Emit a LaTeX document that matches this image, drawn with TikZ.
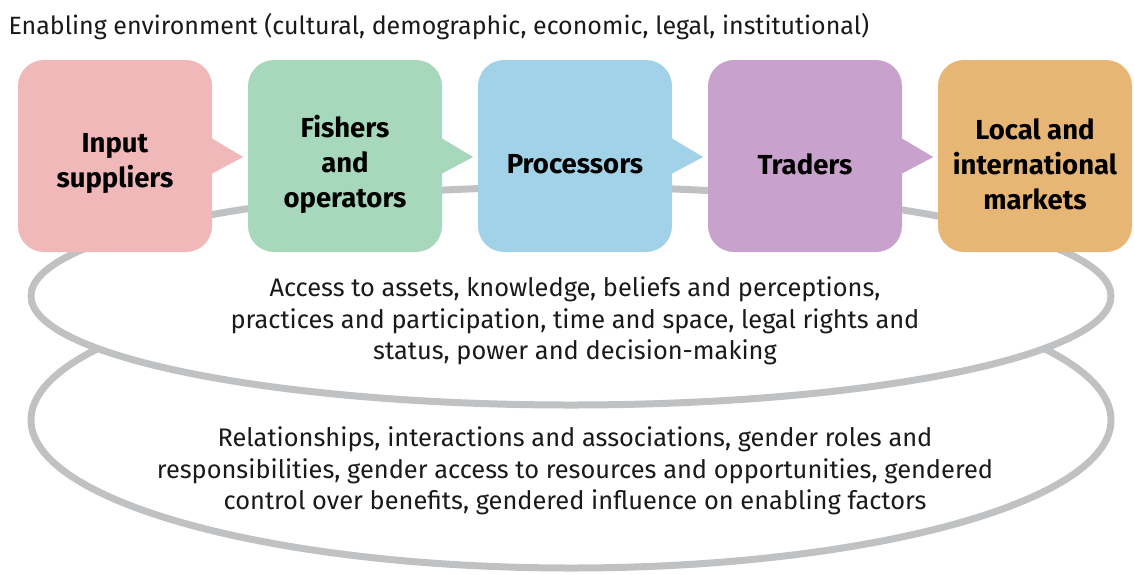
\documentclass[tikz,border=0pt]{standalone}
\usepackage{fontspec}
\setmainfont{Fira Sans}
\usetikzlibrary{calc}
\definecolor{inputc}{HTML}{F0B8B9}
\definecolor{fisherc}{HTML}{A7D8BC}
\definecolor{procc}{HTML}{A2D2E8}
\definecolor{tradec}{HTML}{C8A2CC}
\definecolor{marketc}{HTML}{E7B574}
\definecolor{ringc}{HTML}{C0C1C3}
\definecolor{txtc}{HTML}{1A1A1A}
\tikzset{
  stagebox/.style={rounded corners=26pt, minimum width=194pt, minimum height=192pt,
    inner sep=0pt},
  stagelabel/.style={align=center, text=black, inner sep=0pt,
    font=\fontsize{27.5}{35}\selectfont\bfseries},
  ring/.style={draw=ringc, line width=7pt},
  bodytext/.style={align=center, text=txtc, font=\fontsize{25.4}{31.5}\selectfont},
}
\newcommand{\pointer}[2]{%
  \fill[#2] ($(#1.east)+(-1,-18)$) -- ($(#1.east)+(31,1)$) -- ($(#1.east)+(-1,18)$) -- cycle;}
\begin{document}
\begin{tikzpicture}[x=1pt,y=-1pt]
\useasboundingbox (0,0) rectangle (1135,574);
% outer rings
\draw[ring] (571,420) ellipse [x radius=540, y radius=148];
\draw[ring, fill=white] (571,296) ellipse [x radius=540, y radius=109];
% title
\node[anchor=west, text=txtc, font=\fontsize{25}{30}\selectfont] (title) at (5,27)
  {Enabling environment (cultural, demographic, economic, legal, institutional)};
% value chain stages
\node[stagebox, fill=inputc]  (b1) at (115,156) {};
\node[stagebox, fill=fisherc] (b2) at (345,156) {};
\node[stagebox, fill=procc]   (b3) at (575,156) {};
\node[stagebox, fill=tradec]  (b4) at (805,156) {};
\node[stagebox, fill=marketc] (b5) at (1035,156) {};
\pointer{b1}{inputc}
\pointer{b2}{fisherc}
\pointer{b3}{procc}
\pointer{b4}{tradec}
\node[stagelabel] (l1) at ($(b1)+(0,8)$) {Input\\suppliers};
\node[stagelabel] (l2) at ($(b2)+(0,8)$) {Fishers\\and\\operators};
\node[stagelabel] (l3) at ($(b3)+(0,8)$) {Processors};
\node[stagelabel] (l4) at ($(b4)+(0,8)$) {Traders};
\node[stagelabel] (l5) at ($(b5)+(0,8)$) {Local and\\international\\markets};
% ring texts
\node[bodytext] (inner) at (575,321) {Access to assets, knowledge, beliefs and perceptions,\\practices and participation, time and space, legal rights and\\status, power and decision-making};
\node[bodytext] (outer) at (575,471) {Relationships, interactions and associations, gender roles and\\responsibilities, gender access to resources and opportunities, gendered\\control over benefits, gendered influence on enabling factors};
\end{tikzpicture}
\end{document}
